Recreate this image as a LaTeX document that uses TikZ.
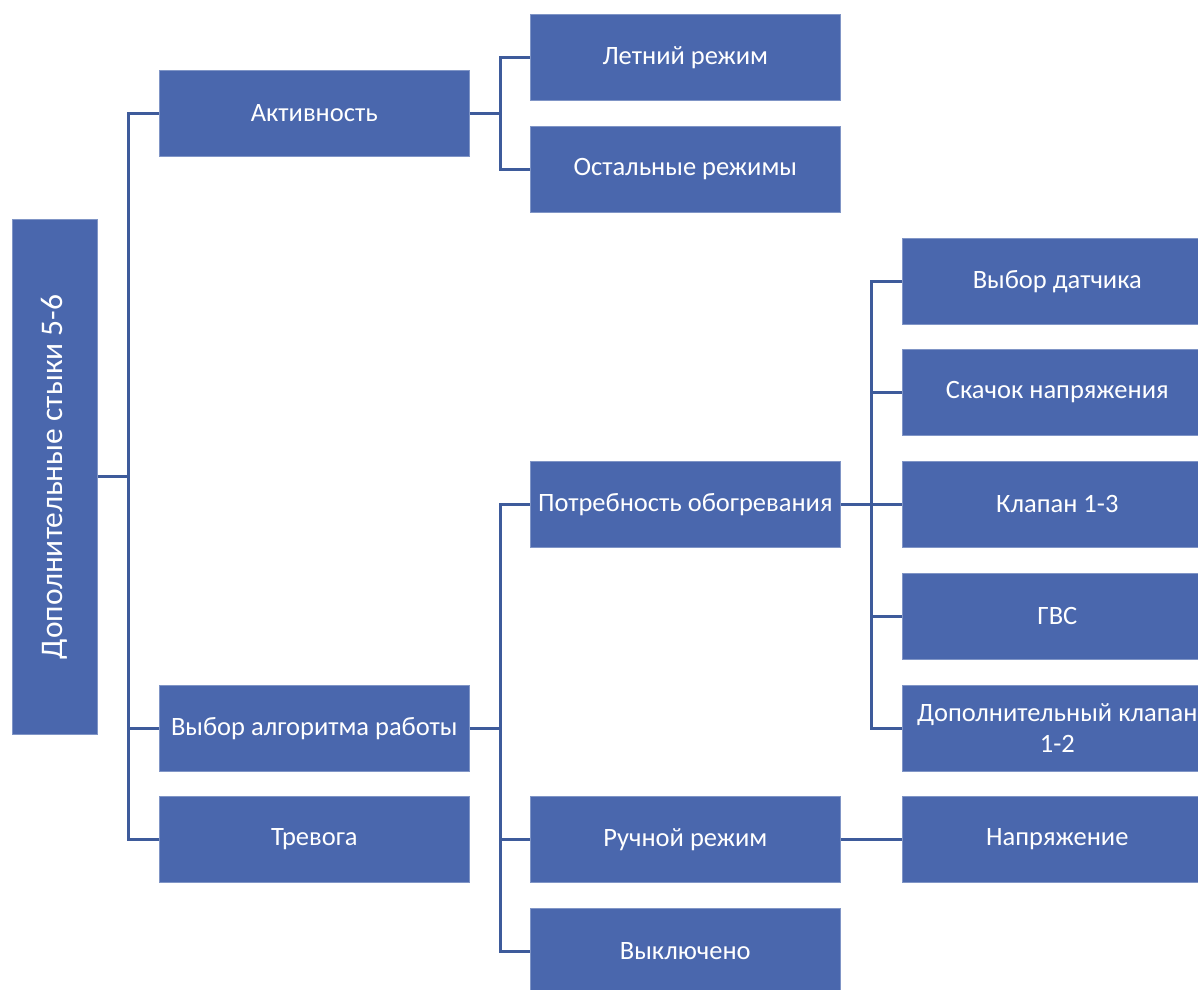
\documentclass[tikz,border=0pt]{standalone}
\usepackage{fontspec}
\usetikzlibrary{calc}
\setmainfont{Carlito}
\definecolor{boxblue}{HTML}{4A67AD}
\definecolor{lineblue}{HTML}{3E5B9B}
\begin{document}
\begin{tikzpicture}[x=1pt,y=-1pt,
  box/.style={draw=boxblue!70!white, line width=0.6pt, fill=boxblue, text=white, minimum width=310pt, minimum height=86pt, inner sep=2pt, align=center, font=\fontsize{26.5}{31}\selectfont, anchor=north west},
  conn/.style={draw=lineblue, line width=2.8pt}]
\clip (0,0) rectangle (1198,989);
\fill[white] (0,0) rectangle (1198,989);
% root
\node[box, minimum width=85pt, minimum height=515pt, font=\fontsize{31.5}{36}\selectfont] (root) at (12,219) {\rotatebox{90}{Дополнительные стыки 5-6}};
% level 1
\node[box] (akt) at (159,70) {Активность};
\node[box] (alg) at (159,685) {Выбор алгоритма работы};
\node[box] (trev) at (159,796) {Тревога};
% level 2
\node[box] (let) at (530,14) {Летний режим};
\node[box] (ost) at (530,126) {Остальные режимы};
\node[box] (potr) at (530,461) {Потребность обогревания};
\node[box] (ruch) at (530,796) {Ручной режим};
\node[box] (vykl) at (530,908) {Выключено};
% level 3
\node[box] (dat) at (902,238) {Выбор датчика};
\node[box] (skach) at (902,349) {Скачок напряжения};
\node[box] (klap) at (902,461) {Клапан 1-3};
\node[box] (gvs) at (902,573) {ГВС};
\node[box] (dop) at (902,685) {Дополнительный клапан\\1-2};
\node[box] (napr) at (902,796) {Напряжение};
% connectors
\coordinate (j0) at ($(root.east)+(31,0)$);
\draw[conn] (root.east) -- (j0);
\draw[conn] (akt.west) -| (j0);
\draw[conn] (alg.west) -| (j0);
\draw[conn] (trev.west) -| (j0);
\coordinate (j1) at ($(akt.east)+(31,0)$);
\draw[conn] (akt.east) -- (j1);
\draw[conn] (let.west) -| (j1);
\draw[conn] (ost.west) -| (j1);
\coordinate (j2) at ($(alg.east)+(31,0)$);
\draw[conn] (alg.east) -- (j2);
\draw[conn] (potr.west) -| (j2);
\draw[conn] (ruch.west) -| (j2);
\draw[conn] (vykl.west) -| (j2);
\coordinate (j3) at ($(potr.east)+(31,0)$);
\draw[conn] (potr.east) -- (j3);
\draw[conn] (dat.west) -| (j3);
\draw[conn] (skach.west) -| (j3);
\draw[conn] (klap.west) -| (j3);
\draw[conn] (gvs.west) -| (j3);
\draw[conn] (dop.west) -| (j3);
\draw[conn] (ruch.east) -- (napr.west);
\end{tikzpicture}
\end{document}
